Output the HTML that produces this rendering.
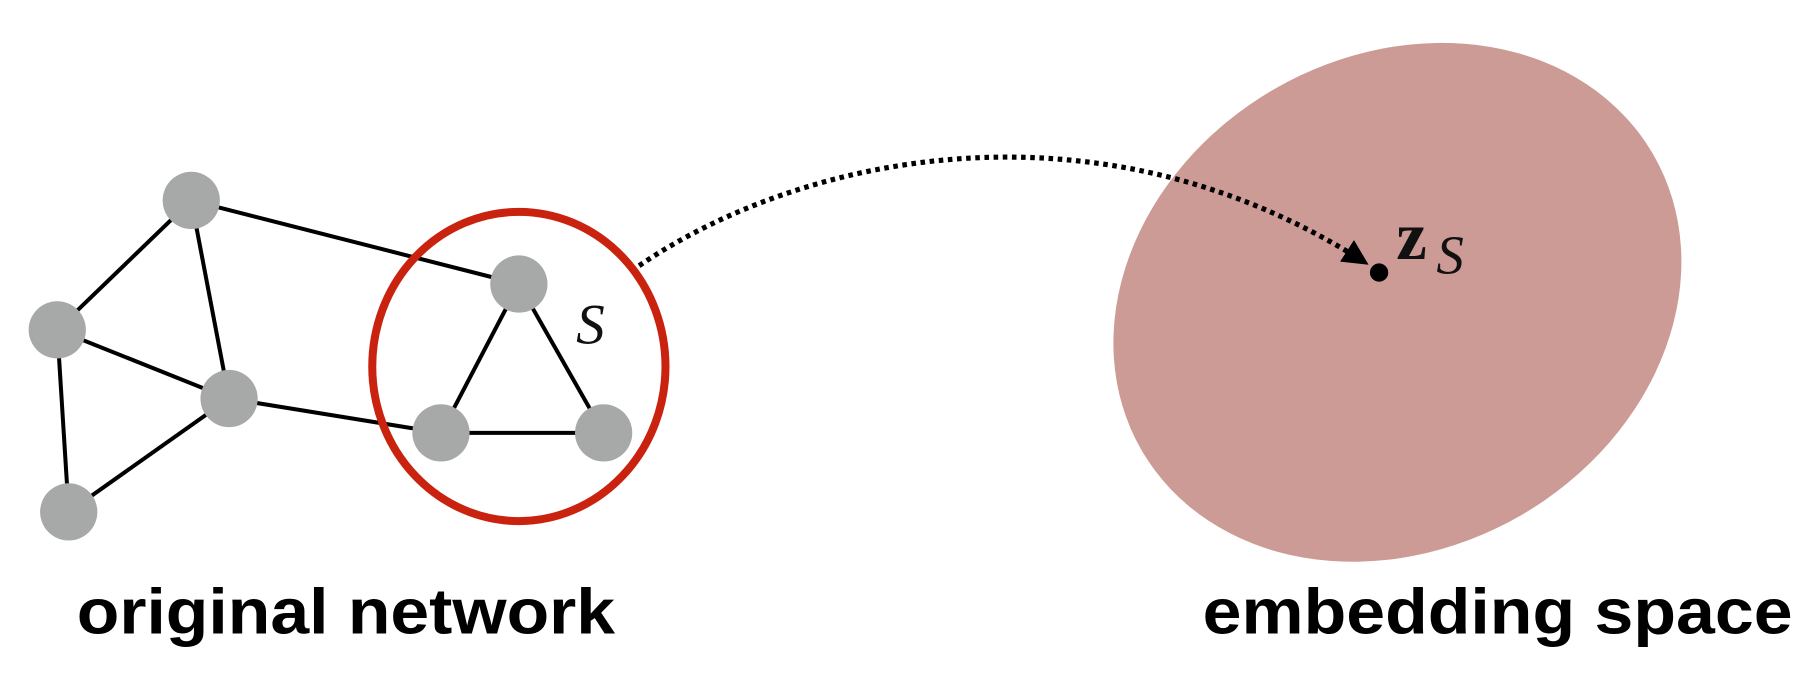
<!DOCTYPE html>
<html>
<head>
<meta charset="utf-8">
<style>
html,body{margin:0;padding:0;background:#fff;}
svg{display:block;}
</style>
</head>
<body>
<svg width="1796" height="686" viewBox="0 0 1568 599" preserveAspectRatio="none" xmlns="http://www.w3.org/2000/svg">
  <defs>
    <marker id="arrow" viewBox="0 0 10 10" refX="9" refY="5" markerWidth="5" markerHeight="5" orient="auto">
      <path d="M0,0 L10,5 L0,10 z" fill="#000"/>
    </marker>
  </defs>
  <ellipse cx="1220" cy="264" rx="258" ry="215" transform="rotate(-30 1220 264)" fill="#cd9b96"/>
  <g stroke="#000" stroke-width="3.5">
    <line x1="167" y1="175" x2="453" y2="248"/>
    <line x1="167" y1="175" x2="50" y2="288"/>
    <line x1="167" y1="175" x2="200" y2="348"/>
    <line x1="50" y1="288" x2="200" y2="348"/>
    <line x1="50" y1="288" x2="60" y2="447"/>
    <line x1="200" y1="348" x2="60" y2="447"/>
    <line x1="200" y1="348" x2="385" y2="378"/>
    <line x1="453" y1="248" x2="385" y2="378"/>
    <line x1="453" y1="248" x2="527" y2="378"/>
    <line x1="385" y1="378" x2="527" y2="378"/>
  </g>
  <g fill="#a6a9a7">
    <circle cx="167" cy="175" r="25"/>
    <circle cx="50" cy="288" r="25"/>
    <circle cx="200" cy="348" r="25"/>
    <circle cx="60" cy="447" r="25"/>
    <circle cx="453" cy="248" r="25"/>
    <circle cx="385" cy="378" r="25"/>
    <circle cx="527" cy="378" r="25"/>
  </g>
  <ellipse cx="453" cy="320" rx="128" ry="135" fill="none" stroke="#c9230f" stroke-width="7"/>
  <text x="503" y="300" font-family="'Liberation Serif', serif" font-style="italic" font-size="50" fill="#111">S</text>
  <path d="M558,232 C700,135 960,80 1193,230" fill="none" stroke="#000" stroke-width="4.5" stroke-dasharray="4,4" marker-end="url(#arrow)"/>
  <circle cx="1204" cy="238" r="8" fill="#000"/>
  <text x="1219" y="226" font-family="'Liberation Serif', serif" font-weight="bold" font-size="60" fill="#111">z</text>
  <text x="1254" y="239" font-family="'Liberation Serif', serif" font-style="italic" font-size="48" fill="#111">S</text>
  <text x="67" y="553" textLength="470" lengthAdjust="spacingAndGlyphs" font-family="'Liberation Sans', sans-serif" font-weight="bold" font-size="56" fill="#000">original network</text>
  <text x="1050" y="553" textLength="515" lengthAdjust="spacingAndGlyphs" font-family="'Liberation Sans', sans-serif" font-weight="bold" font-size="56" fill="#000">embedding space</text>
</svg>
</body>
</html>
